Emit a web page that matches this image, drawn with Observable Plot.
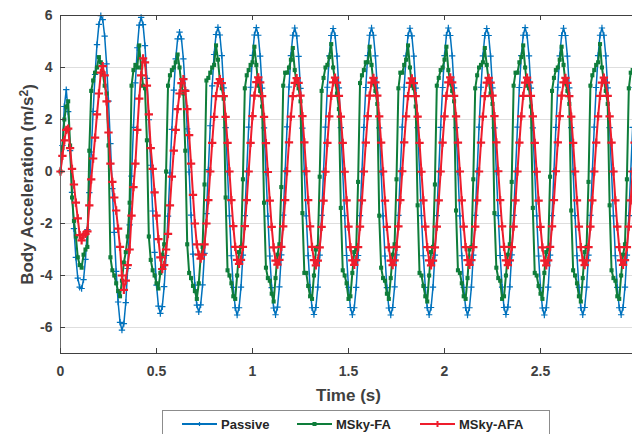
<!DOCTYPE html>
<html><head><meta charset="utf-8">
<script src="https://cdn.jsdelivr.net/npm/d3@7"></script>
<script src="https://cdn.jsdelivr.net/npm/@observablehq/plot@0.6"></script>
<style>
html,body{margin:0;padding:0;background:#fff;overflow:hidden;width:632px;height:434px;}
#wrap{position:relative;width:632px;height:434px;overflow:hidden;background:#fff;}
#chart{position:absolute;left:0;top:0;width:660px;}
#chart svg{max-width:none !important;width:660px !important;height:408px !important;}
#legend{position:absolute;left:162px;top:410px;width:386px;height:40px;border:1px solid #8c8c8c;background:#fff;font:bold 13px "Liberation Sans",Arial,sans-serif;color:#262626;}
.item{position:absolute;top:5px;height:16px;display:flex;align-items:center;white-space:nowrap;}
.item svg{margin-right:3px;}
</style></head>
<body><div id="wrap"><div id="chart"></div><div id="legend"></div></div>
<script>
// time step of samples (s)
const dt = 0.01;

const passive = [
0, 1.0, 2.5, 3.15, 2.3, 0.8, -0.8, -2.2, -3.3, -4.1, -4.45, -4.5, -4.16, -3.38, -2.23, -0.81, 0.75, 2.31, 3.73, 4.88,
5.66, 5.99, 5.84, 5.21, 4.14, 2.71, 1.07, -0.66, -2.34, -3.84, -5.02, -5.80, -6.10, -5.85, -5.04, -3.73, -2.05, -0.18, 1.70, 3.41,
4.76, 5.63, 5.93, 5.65, 4.84, 3.58, 1.99, 0.24, -1.52, -3.11, -4.37, -5.18, -5.46, -5.20, -4.43, -3.23, -1.72, -0.05, 1.62, 3.13,
4.33, 5.10, 5.36, 5.10, 4.33, 3.14, 1.64, -0.02, -1.68, -3.18, -4.37, -5.14, -5.40, -5.13, -4.36, -3.15, -1.62, 0.07, 1.76, 3.29,
4.50, 5.27, 5.54, 5.25, 4.46, 3.22, 1.69, -0.02, -1.71, -3.24, -4.46, -5.24, -5.52, -5.24, -4.45, -3.22, -1.70, 0.01, 1.71, 3.24,
4.47, 5.25, 5.53, 5.24, 4.44, 3.21, 1.68, -0.03, -1.72, -3.25, -4.47, -5.25, -5.51, -5.22, -4.44, -3.21, -1.68, 0.02, 1.72, 3.25,
4.46, 5.24, 5.52, 5.22, 4.43, 3.20, 1.67, -0.02, -1.71, -3.24, -4.46, -5.24, -5.50, -5.23, -4.45, -3.22, -1.69, 0.01, 1.71, 3.24,
4.45, 5.23, 5.50, 5.23, 4.44, 3.22, 1.69, -0.01, -1.70, -3.23, -4.46, -5.23, -5.51, -5.24, -4.46, -3.23, -1.70, 0.00, 1.70, 3.23,
4.46, 5.24, 5.52, 5.24, 4.45, 3.22, 1.68, -0.02, -1.71, -3.25, -4.47, -5.25, -5.52, -5.23, -4.44, -3.21, -1.69, 0.01, 1.71, 3.24,
4.45, 5.23, 5.51, 5.22, 4.44, 3.21, 1.69, -0.01, -1.70, -3.24, -4.46, -5.24, -5.51, -5.23, -4.45, -3.22, -1.70, 0.00, 1.70, 3.23,
4.46, 5.24, 5.52, 5.23, 4.45, 3.22, 1.69, -0.02, -1.71, -3.24, -4.46, -5.24, -5.52, -5.24, -4.45, -3.22, -1.69, 0.01, 1.71, 3.24,
4.45, 5.23, 5.50, 5.23, 4.44, 3.22, 1.68, -0.01, -1.70, -3.23, -4.45, -5.23, -5.50, -5.22, -4.44, -3.21, -1.69, 0.01, 1.71, 3.23,
4.46, 5.24, 5.53, 5.24, 4.45, 3.21, 1.68, -0.02, -1.71, -3.25, -4.47, -5.25, -5.52, -5.24, -4.45, -3.22, -1.70, 0.00, 1.70, 3.24,
4.45, 5.23, 5.51, 5.23, 4.44, 3.22, 1.69, -0.01, -1.70, -3.24, -4.46, -5.24, -5.51, -5.23, -4.45, -3.22, -1.69, 0.01, 1.71, 3.23,
4.46, 5.24, 5.52, 5.24, 4.45, 3.22, 1.69, -0.01, -1.71, -3.24, -4.46, -5.24, -5.51, -5.23, -4.45, -3.22, -1.70, 0.00, 1.70, 3.23,
4.45
];

const mskyFA = [
0, 0.9, 2.0, 2.5, 2.7, 1.0, -1.0, -1.9, -2.5, -3.3, -3.6, -3.7, -3.2, -3.0, -2.9, 0.8, 3.1, 3.5, 3.8, 4.0,
4.4, 4.2, 3.8, 3.3, 3.0, 1.0, -3.3, -3.8, -4.0, -4.3, -4.6, -4.8, -4.2, -3.5, -3.1, -2.5, -1.2, 3.3, 3.9, 4.1,
4.0, 4.85, 4.0, 3.3, 3.2, 1.2, -2.5, -3.4, -3.8, -4.0, -4.3, -4.5, -3.9, -3.2, -2.8, 0.0, 3.3, 3.7, 3.9, 4.0,
4.2, 4.5, 4.0, 3.3, 3.0, 0.8, -2.8, -3.9, -4.1, -4.4, -4.6, -4.9, -4.3, -3.3, -2.9, -0.5, 3.5, 3.6, 3.8, 4.0,
4.1, 4.85, 4.3, 3.5, 3.2, 2.8, -1.0, -3.8, -4.0, -4.3, -4.8, -4.9, -4.0, -3.1, -2.9, -0.3, 3.2, 3.7, 3.9, 4.1,
4.2, 4.8, 4.1, 3.3, 3.1, 2.5, -1.2, -3.7, -4.1, -4.2, -4.7, -5.0, -4.1, -3.2, -2.8, -0.6, 3.3, 3.8, 3.8, 4.0,
4.3, 4.75, 3.9, 3.4, 3.2, 2.7, -1.6, -3.9, -3.9, -4.4, -4.8, -4.9, -4.0, -3.0, -2.9, -0.2, 3.1, 3.6, 4.0, 4.1,
4.4, 4.9, 4.0, 3.5, 3.0, 2.4, -1.4, -3.8, -4.0, -4.3, -4.9, -4.8, -3.9, -3.1, -3.0, -0.4, 3.4, 3.7, 3.9, 4.2,
4.2, 4.8, 4.1, 3.4, 3.1, 2.6, -1.7, -3.7, -4.1, -4.2, -4.7, -4.9, -4.1, -3.2, -2.8, -0.3, 3.2, 3.8, 3.8, 4.1,
4.3, 4.85, 4.0, 3.3, 3.2, 2.5, -1.3, -3.9, -4.0, -4.4, -4.8, -5.0, -4.0, -3.1, -2.9, -0.5, 3.3, 3.6, 3.9, 4.0,
4.3, 4.8, 3.9, 3.4, 3.1, 2.7, -1.5, -3.8, -3.9, -4.3, -4.8, -4.9, -4.1, -3.0, -2.9, -0.3, 3.2, 3.7, 4.0, 4.1,
4.2, 4.75, 4.1, 3.5, 3.0, 2.6, -1.6, -3.7, -4.1, -4.2, -4.9, -4.8, -4.0, -3.2, -2.8, -0.4, 3.3, 3.8, 3.8, 4.2,
4.4, 4.85, 4.0, 3.3, 3.2, 2.5, -1.4, -3.9, -4.0, -4.4, -4.7, -4.9, -3.9, -3.1, -3.0, -0.2, 3.1, 3.6, 3.9, 4.0,
4.3, 4.8, 4.1, 3.4, 3.1, 2.6, -1.5, -3.8, -4.0, -4.3, -4.8, -5.0, -4.1, -3.1, -2.9, -0.4, 3.3, 3.7, 3.9, 4.1,
4.2, 4.9, 4.0, 3.5, 3.1, 2.6, -1.3, -3.8, -4.1, -4.2, -4.8, -4.9, -4.0, -3.2, -2.8, -0.3, 3.2, 3.8, 3.9, 4.1,
4.3
];

const mskyAFA = [
0, 0.6, 1.2, 1.6, 1.65, 0.9, 0.1, -0.5, -1.2, -1.8, -2.45, -2.65, -2.45, -2.4, -2.3, -1.3, -0.3, 0.5, 1.3, 2.2,
3.0, 3.8, 4.05, 3.7, 2.7, 1.5, 0.3, -0.4, -1.0, -1.5, -2.2, -2.9, -4.0, -4.55, -4.2, -3.6, -3.0, -1.7, -0.6, 0.3,
1.6, 2.8, 3.7, 4.35, 4.2, 3.3, 2.2, 0.9, 0.1, -0.8, -1.7, -2.6, -3.3, -3.75, -3.6, -3.0, -2.4, -1.3, -0.2, 0.8,
1.6, 2.4, 3.0, 3.4, 3.55, 3.1, 2.4, 1.4, 0.3, -0.9, -2.0, -2.8, -3.2, -3.35, -3.2, -2.8, -2.0, -1.1, 0.0, 1.1,
2.1, 2.9, 3.4, 3.55, 3.4, 2.9, 2.1, 1.1, 0.0, -1.1, -2.1, -2.9, -3.4, -3.55, -3.4, -2.9, -2.1, -1.1, 0.0, 1.1,
2.13, 2.92, 3.44, 3.62, 3.43, 2.90, 2.10, 1.09, -0.02, -1.12, -2.13, -2.92, -3.43, -3.58, -3.40, -2.90, -2.11, -1.10, 0.01, 1.12,
2.11, 2.90, 3.41, 3.59, 3.41, 2.92, 2.13, 1.12, 0.01, -1.10, -2.11, -2.90, -3.41, -3.61, -3.43, -2.92, -2.13, -1.12, -0.01, 1.10,
2.12, 2.91, 3.43, 3.61, 3.42, 2.91, 2.11, 1.10, -0.01, -1.11, -2.12, -2.91, -3.42, -3.59, -3.41, -2.91, -2.12, -1.11, 0.00, 1.11,
2.13, 2.92, 3.42, 3.60, 3.43, 2.92, 2.12, 1.11, 0.00, -1.12, -2.13, -2.92, -3.43, -3.60, -3.42, -2.90, -2.11, -1.10, 0.01, 1.12,
2.12, 2.90, 3.41, 3.58, 3.40, 2.90, 2.11, 1.10, -0.01, -1.11, -2.12, -2.91, -3.42, -3.61, -3.43, -2.92, -2.12, -1.11, 0.00, 1.11,
2.12, 2.91, 3.43, 3.62, 3.43, 2.91, 2.12, 1.11, 0.00, -1.11, -2.12, -2.91, -3.41, -3.59, -3.41, -2.91, -2.12, -1.11, 0.00, 1.11,
2.11, 2.90, 3.42, 3.60, 3.42, 2.92, 2.13, 1.12, 0.01, -1.10, -2.11, -2.90, -3.42, -3.60, -3.42, -2.91, -2.12, -1.11, 0.00, 1.11,
2.12, 2.91, 3.42, 3.61, 3.43, 2.91, 2.12, 1.10, -0.01, -1.12, -2.13, -2.92, -3.43, -3.61, -3.42, -2.90, -2.11, -1.10, 0.01, 1.12,
2.13, 2.92, 3.43, 3.60, 3.41, 2.90, 2.11, 1.10, 0.00, -1.11, -2.12, -2.91, -3.42, -3.60, -3.42, -2.91, -2.12, -1.11, 0.00, 1.11,
2.12, 2.91, 3.42, 3.61, 3.42, 2.91, 2.12, 1.11, 0.00, -1.11, -2.12, -2.91, -3.42, -3.59, -3.41, -2.91, -2.12, -1.11, 0.00, 1.11,
2.12
];

const seriesNames = ["Passive", "MSky-FA", "MSky-AFA"];
const seriesColors = ["#0072BD", "#0E7D3A", "#EE1D2C"];
const xTicks = [0, 0.5, 1, 1.5, 2, 2.5, 3];
const yTicks = [-6, -4, -2, 0, 2, 4, 6];
const xLabel = "Time (s)";
const yLabelMain = "Body Acceleration (m/s";
const yLabelSup = "2";
const yLabelEnd = ")";

const toRows = (vals) => vals.map((v, i) => ({t: +(i * dt).toFixed(2), v}));
const rowsP = toRows(passive), rowsF = toRows(mskyFA), rowsA = toRows(mskyAFA);

const W = 660, H = 408, mL = 60, mR = 24, mT = 15, mB = 55;
const frameW = W - mL - mR, frameH = H - mT - mB;
const axisColor = "#404040";
const textColor = "#404040";
const font = "'Liberation Sans', Arial, Helvetica, sans-serif";

const chart = Plot.plot({
  width: W, height: H,
  marginLeft: mL, marginRight: mR, marginTop: mT, marginBottom: mB,
  style: {fontFamily: font, fontSize: "14px", fontWeight: "bold", color: textColor, background: "#fff", overflow: "visible", maxWidth: "none"},
  x: {domain: [0, 3]},
  y: {domain: [-7, 6]},
  marks: [
    Plot.gridY(yTicks, {stroke: "#dedede", strokeOpacity: 1, strokeWidth: 1}),
    Plot.line(rowsP, {x: "t", y: "v", stroke: seriesColors[0], strokeWidth: 1.5}),
    Plot.dot(rowsP, {x: "t", y: "v", symbol: "plus", r: 2.2, stroke: seriesColors[0], strokeWidth: 1.2}),
    Plot.line(rowsF, {x: "t", y: "v", stroke: seriesColors[1], strokeWidth: 2}),
    Plot.dot(rowsF, {x: "t", y: "v", symbol: "square", r: 2.3, fill: seriesColors[1], stroke: "none"}),
    Plot.line(rowsA, {x: "t", y: "v", stroke: seriesColors[2], strokeWidth: 2}),
    Plot.dot(rowsA, {x: "t", y: "v", symbol: "plus", r: 2.8, stroke: seriesColors[2], strokeWidth: 2.2}),
    Plot.ruleY([-7], {stroke: axisColor, strokeWidth: 1}),
    Plot.ruleY([6], {stroke: axisColor, strokeWidth: 1}),
    Plot.ruleX([0], {stroke: "#6a6a6a", strokeWidth: 1}),
    Plot.tickX(xTicks, {x: d => d, insetTop: frameH - 5, stroke: axisColor}),
    Plot.tickX(xTicks, {x: d => d, insetBottom: frameH - 5, stroke: axisColor}),
    Plot.tickY(yTicks, {y: d => d, insetRight: frameW - 5, stroke: axisColor}),
    Plot.axisX(xTicks, {tickSize: 0, tickPadding: 13, tickFormat: d => String(d), label: null, fill: textColor}),
    Plot.axisY(yTicks, {tickSize: 0, tickPadding: 8, tickFormat: d => String(d), label: null, fill: textColor}),
    Plot.text([xLabel], {text: d => d, frameAnchor: "bottom", dy: 42, lineAnchor: "middle", textAnchor: "middle", fontSize: 17, fontWeight: "bold", fill: textColor}),
    Plot.text([yLabelMain], {text: d => d, frameAnchor: "left", dx: -33, rotate: -90, lineAnchor: "middle", textAnchor: "middle", fontSize: 17, fontWeight: "bold", fill: textColor, className: "ylab"})
  ]
});
document.getElementById("chart").appendChild(chart);

// superscript in the y label
const yt = chart.querySelector(".ylab text");
if (yt) {
  const ns = "http://www.w3.org/2000/svg";
  const sup = document.createElementNS(ns, "tspan");
  sup.setAttribute("dy", "-0.45em");
  sup.setAttribute("font-size", "12");
  sup.textContent = yLabelSup;
  const end = document.createElementNS(ns, "tspan");
  end.setAttribute("dy", "0.45em");
  end.textContent = yLabelEnd;
  // keep the text node, then append tspans
  const base = yt.textContent;
  while (yt.firstChild) yt.removeChild(yt.firstChild);
  yt.appendChild(document.createTextNode(base));
  yt.appendChild(sup);
  yt.appendChild(end);
}

// legend
const legend = document.getElementById("legend");
const itemLeft = [19, 134, 257];
const markerSvg = [
  c => `<line x1="0" y1="6" x2="35" y2="6" stroke="${c}" stroke-width="2"/><line x1="15.5" y1="6" x2="19.5" y2="6" stroke="${c}" stroke-width="1.2"/><line x1="17.5" y1="4" x2="17.5" y2="8" stroke="${c}" stroke-width="1.2"/>`,
  c => `<line x1="0" y1="6" x2="35" y2="6" stroke="${c}" stroke-width="2"/><rect x="15.5" y="4" width="4" height="4" fill="${c}"/>`,
  c => `<line x1="0" y1="6" x2="35" y2="6" stroke="${c}" stroke-width="2"/><line x1="14.5" y1="6" x2="20.5" y2="6" stroke="${c}" stroke-width="2"/><line x1="17.5" y1="3" x2="17.5" y2="9" stroke="${c}" stroke-width="2"/>`
];
seriesNames.forEach((name, i) => {
  const d = document.createElement("div");
  d.className = "item";
  d.style.left = itemLeft[i] + "px";
  d.innerHTML = `<svg width="36" height="12">${markerSvg[i](seriesColors[i])}</svg><span>${name}</span>`;
  legend.appendChild(d);
});
</script>
</body></html>
